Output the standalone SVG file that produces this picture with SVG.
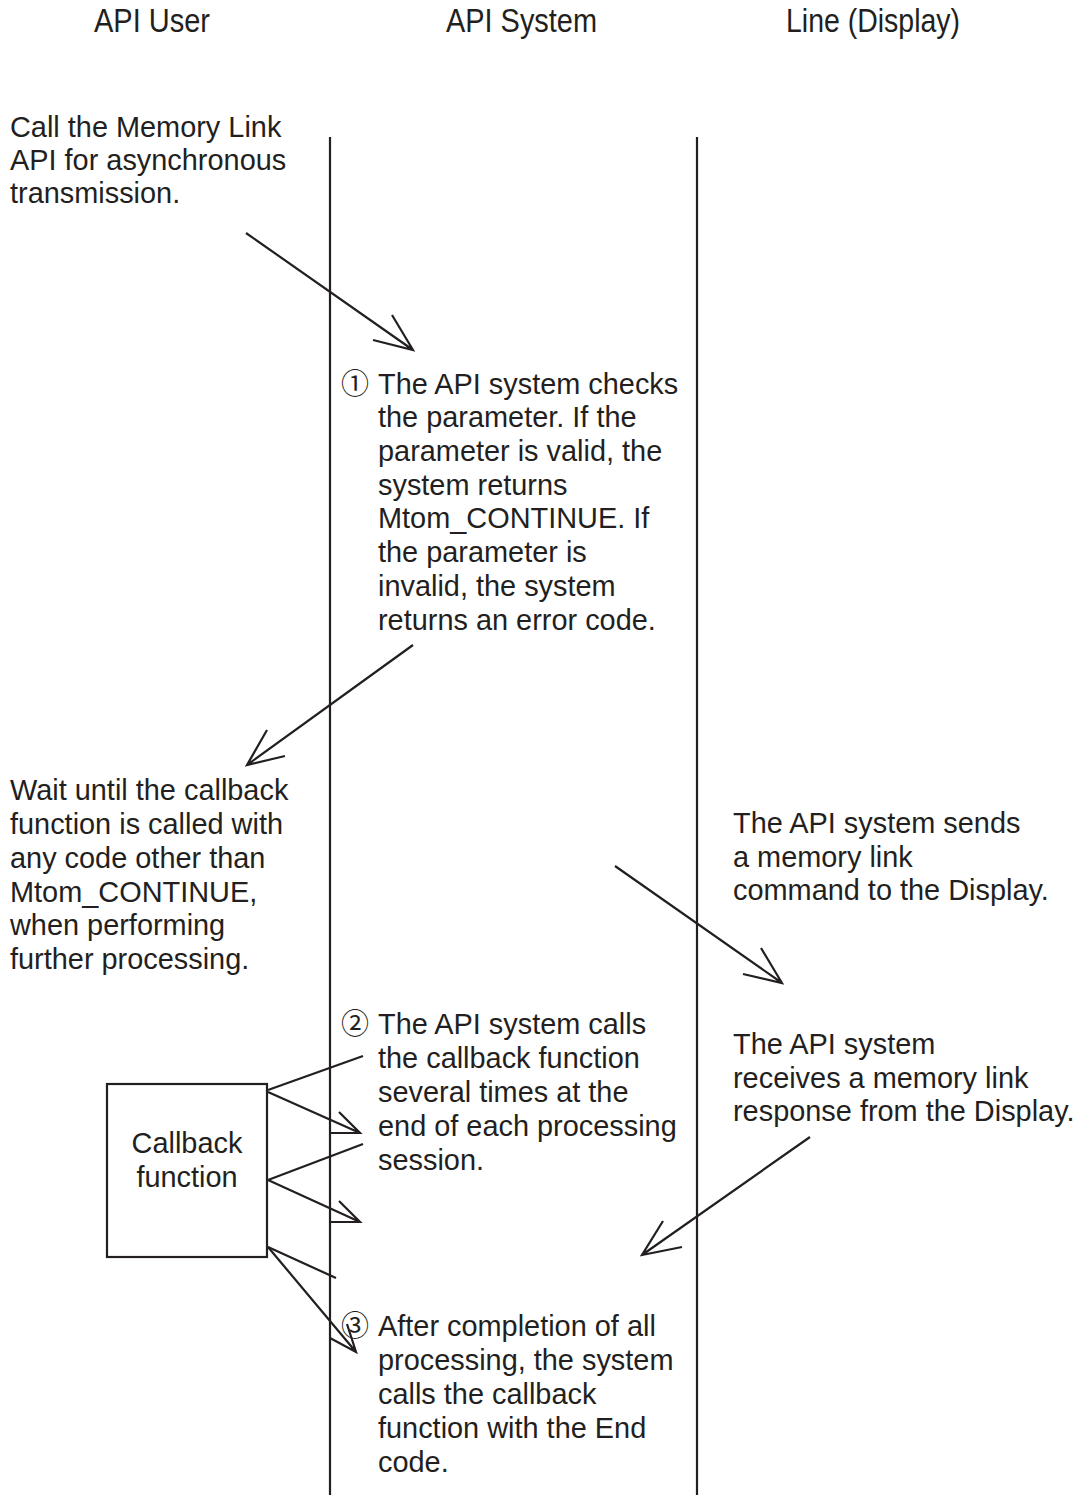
<svg xmlns="http://www.w3.org/2000/svg" width="1087" height="1495" viewBox="0 0 1087 1495">
<style>
  text { font-family: "Liberation Sans", Arial, "Noto Sans CJK JP", sans-serif; fill: #231f20; }
  .hd { font-size: 33px; }
  .tx { font-size: 28.9px; }
  .num { font-family: "Noto Sans CJK JP", "DejaVu Sans", sans-serif; font-size: 28px; }
  .ln { stroke: #231f20; stroke-width: 2.2; fill: none; stroke-linecap: butt; }
</style>
<rect width="1087" height="1495" fill="#ffffff"/>

<g id="headers">
  <text class="hd" x="94" y="32" textLength="116" lengthAdjust="spacingAndGlyphs">API User</text>
  <text class="hd" x="446" y="32" textLength="151" lengthAdjust="spacingAndGlyphs">API System</text>
  <text class="hd" x="786" y="32" textLength="174" lengthAdjust="spacingAndGlyphs">Line (Display)</text>
</g>

<g id="lifelines">
  <line class="ln" x1="330" y1="137" x2="330" y2="1495"/>
  <line class="ln" x1="697" y1="137" x2="697" y2="1495"/>
</g>

<g id="node-call-api">
  <text class="tx" x="10" y="137">Call the Memory Link</text>
  <text class="tx" x="10" y="170">API for asynchronous</text>
  <text class="tx" x="10" y="203">transmission.</text>
</g>

<g id="node-step1">
  <text class="num" x="341" y="394">①</text>
  <text class="tx" x="378" y="394">The API system checks</text>
  <text class="tx" x="378" y="427">the parameter. If the</text>
  <text class="tx" x="378" y="461">parameter is valid, the</text>
  <text class="tx" x="378" y="495">system returns</text>
  <text class="tx" x="378" y="528">Mtom_CONTINUE. If</text>
  <text class="tx" x="378" y="562">the parameter is</text>
  <text class="tx" x="378" y="596">invalid, the system</text>
  <text class="tx" x="378" y="630">returns an error code.</text>
</g>

<g id="node-wait">
  <text class="tx" x="10" y="800">Wait until the callback</text>
  <text class="tx" x="10" y="834">function is called with</text>
  <text class="tx" x="10" y="868">any code other than</text>
  <text class="tx" x="10" y="902">Mtom_CONTINUE,</text>
  <text class="tx" x="10" y="935">when performing</text>
  <text class="tx" x="10" y="969">further processing.</text>
</g>

<g id="node-sends">
  <text class="tx" x="733" y="833">The API system sends</text>
  <text class="tx" x="733" y="867">a memory link</text>
  <text class="tx" x="733" y="900">command to the Display.</text>
</g>

<g id="node-receives">
  <text class="tx" x="733" y="1054">The API system</text>
  <text class="tx" x="733" y="1088">receives a memory link</text>
  <text class="tx" x="733" y="1121">response from the Display.</text>
</g>

<g id="node-step2">
  <text class="num" x="341" y="1034">②</text>
  <text class="tx" x="378" y="1034">The API system calls</text>
  <text class="tx" x="378" y="1068">the callback function</text>
  <text class="tx" x="378" y="1102">several times at the</text>
  <text class="tx" x="378" y="1136">end of each processing</text>
  <text class="tx" x="378" y="1170">session.</text>
</g>

<g id="node-callback">
  <rect class="ln" x="107" y="1084" width="160" height="173"/>
  <text class="tx" x="187" y="1153" text-anchor="middle">Callback</text>
  <text class="tx" x="187" y="1187" text-anchor="middle">function</text>
</g>

<g id="node-step3">
  <text class="tx" x="378" y="1336">After completion of all</text>
  <text class="tx" x="378" y="1370">processing, the system</text>
  <text class="tx" x="378" y="1404">calls the callback</text>
  <text class="tx" x="378" y="1438">function with the End</text>
  <text class="tx" x="378" y="1472">code.</text>
</g>

<g id="connectors">
  <path class="ln" d="M246,233 L413,350 M392,315 L413,350 L373,340"/>
  <path class="ln" d="M413,645 L247,765 M267,730 L247,765 L285,756"/>
  <path class="ln" d="M615,866 L782,983 M761,948 L782,983 L743,974"/>
  <path class="ln" d="M810,1137 L642,1255 M663,1221 L642,1255 L682,1247"/>
  <path class="ln" d="M268,1090 L363,1056"/>
  <path class="ln" d="M268,1092 L360,1133 M339,1112 L360,1133 L330,1133"/>
  <path class="ln" d="M268,1180 L363,1144"/>
  <path class="ln" d="M268,1180 L360,1222 M339,1201 L360,1222 L330,1222"/>
  <path class="ln" d="M268,1247 L336,1278"/>
  <path class="ln" d="M268,1247 L356,1352 M330,1338 L356,1352 L347,1324"/>
</g>

<g id="step3-number">
  <text class="num" x="341" y="1336">③</text>
</g>
</svg>
